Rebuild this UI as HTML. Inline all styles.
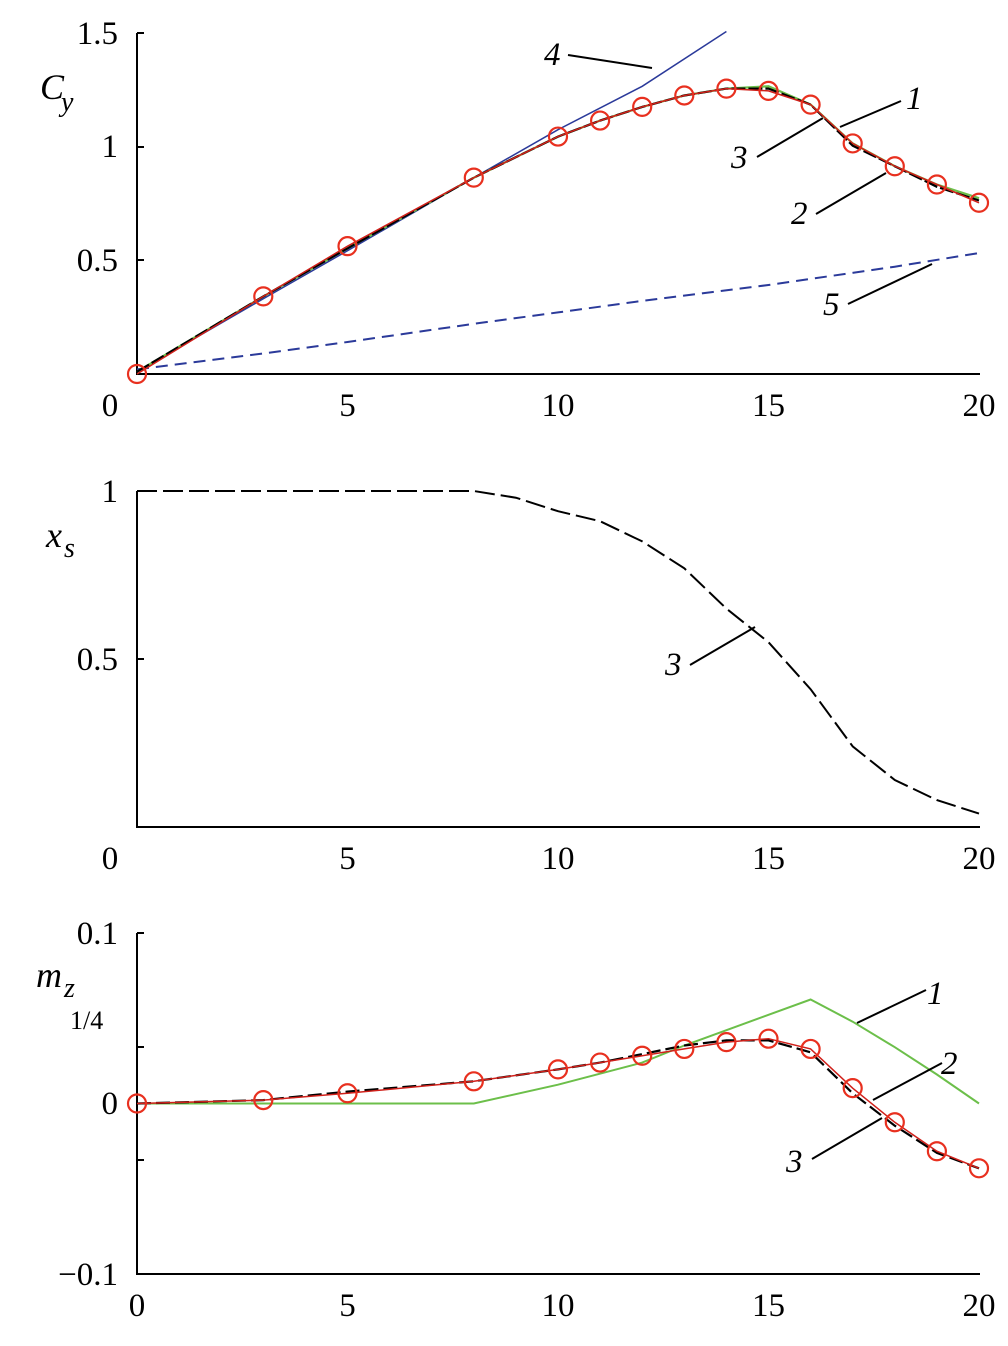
<!DOCTYPE html>
<html><head><meta charset="utf-8"><style>
body{margin:0;background:#fff}
svg{display:block}
svg text{font-family:"Liberation Serif","Times New Roman",Times,serif;fill:#000}
</style></head><body>
<svg id="c" width="1008" height="1346" xmlns="http://www.w3.org/2000/svg"></svg>
<script>
const alphaX=[0,3,5,8,10,11,12,13,14,15,16,17,18,19,20];
const cy2=[0,0.34,0.56,0.86,1.04,1.11,1.17,1.22,1.25,1.24,1.18,1.01,0.91,0.83,0.75];
const cy3=[0.01,0.34,0.55,0.86,1.04,1.11,1.17,1.22,1.25,1.25,1.18,1.0,0.91,0.82,0.76];
const cy1=[0.01,0.34,0.55,0.86,1.04,1.11,1.17,1.22,1.25,1.26,1.18,1.01,0.91,0.83,0.77];
const x4=[0,3,5,8,10,12,14];
const cy4=[0.01,0.33,0.54,0.86,1.07,1.26,1.50];
const x5=[0,3,5,8,10,12,15,18,20];
const cy5=[0.02,0.09,0.14,0.22,0.27,0.32,0.39,0.47,0.53];
const xsX=[0,8,9,10,11,12,13,14,15,16,17,18,19,20];
const xsY=[1,1,0.98,0.94,0.91,0.85,0.77,0.65,0.55,0.41,0.24,0.14,0.08,0.04];
const mz2=[0,0.002,0.006,0.013,0.020,0.024,0.028,0.032,0.036,0.038,0.032,0.009,-0.011,-0.028,-0.038];
const mz3=[0,0.002,0.007,0.013,0.020,0.024,0.029,0.034,0.037,0.037,0.030,0.006,-0.013,-0.029,-0.038];
const mzGx=[0,8,10,12,13,14,15,16,17,18,19,20];
const mzG=[0,0,0.011,0.024,0.034,0.043,0.052,0.061,0.048,0.033,0.017,0];
const xTicks=[0,5,10,15,20];

const svg=document.getElementById('c');
const NS='http://www.w3.org/2000/svg';
function mk(tag,attrs,name){const e=document.createElementNS(NS,tag);for(const k in attrs)e.setAttribute(k,attrs[k]);


svg.appendChild(e);return e;}
function txt(x,y,s,name,extra){const e=mk('text',Object.assign({x:x,y:y,'font-size':33,'font-family':'Liberation Serif, Times New Roman, serif'},extra||{}),name);e.textContent=s;return e;}
const X=v=>137+v*42.1;
const Y1=v=>374-v*228.3;
const Y2=v=>827-v*336;
const Y3=v=>1103.5-v*1705;
function line(xs,ys,fx,fy,stroke,w,dash,name){
 const d=xs.map((x,i)=>(i?'L':'M')+X(x).toFixed(1)+' '+fy(ys[i]).toFixed(1)).join(' ');
 const a={d:d,fill:'none',stroke:stroke,'stroke-width':w};if(dash)a['stroke-dasharray']=dash;
 return mk('path',a,name);}
function circles(xs,ys,fy,name){xs.forEach((x,i)=>{mk('circle',{cx:X(x),cy:fy(ys[i]),r:9,fill:'none',stroke:'#e8301f','stroke-width':2.2},name);});}
function seg(x1,y1,x2,y2,name){mk('line',{x1:x1,y1:y1,x2:x2,y2:y2,stroke:'#000','stroke-width':2},name);}

// Panel 1
seg(137,33,137,375,'y-axis-cy');seg(136,374,980,374,'x-axis-cy');
[[1.5,33],[1,147],[0.5,260]].forEach(t=>{seg(137,t[1],144,t[1],'y-tick');});
txt(118,44,'1.5','y-tick-label',{'text-anchor':'end'});
txt(118,157,'1','y-tick-label',{'text-anchor':'end'});
txt(118,271,'0.5','y-tick-label',{'text-anchor':'end'});
xTicks.forEach(v=>txt(v==0?110:X(v),416,String(v),'x-tick-label',{'text-anchor':'middle'}));
txt(40,99,'C','y-axis-title',{'font-style':'italic','font-size':36});
txt(61,111,'y','y-axis-title-sub',{'font-style':'italic','font-size':28});
line(x5,cy5,X,Y1,'#2b3a9a',2,'12 7','series-5');
line(x4,cy4,X,Y1,'#2b3a9a',1.5,null,'series-4');
line(alphaX,cy1,X,Y1,'#6cbf4a',2.2,null,'series-1');
line(alphaX,cy3,X,Y1,'#000',2.2,'14 3','series-3');
line(alphaX,cy2,X,Y1,'#d0201a',1.5,null,'series-2');
circles(alphaX,cy2,Y1,'marker-2');
seg(568,55,652,68,'leader-4');txt(544,65,'4','label-4',{'font-style':'italic'});
seg(901,101,840,127,'leader-1');txt(906,109,'1','label-1',{'font-style':'italic'});
seg(757,157,823,118,'leader-3');txt(731,168,'3','label-3',{'font-style':'italic'});
seg(816,214,886,173,'leader-2');txt(791,224,'2','label-2',{'font-style':'italic'});
seg(848,304,932,264,'leader-5');txt(823,315,'5','label-5',{'font-style':'italic'});

// Panel 2
seg(137,491,137,828,'y-axis-xs');seg(136,827,980,827,'x-axis-xs');
seg(137,491,144,491,'y-tick');seg(137,659,144,659,'y-tick');
txt(118,502,'1','y-tick-label',{'text-anchor':'end'});
txt(118,670,'0.5','y-tick-label',{'text-anchor':'end'});
xTicks.forEach(v=>txt(v==0?110:X(v),869,String(v),'x-tick-label',{'text-anchor':'middle'}));
txt(46,547,'x','y-axis-title',{'font-style':'italic','font-size':36});
txt(64,557,'s','y-axis-title-sub',{'font-style':'italic','font-size':28});
line(xsX,xsY,X,Y2,'#000',2,'20 6','series-xs-3');
seg(690,665,755,627,'leader-3');txt(665,675,'3','label-3',{'font-style':'italic'});

// Panel 3
seg(137,933,137,1275,'y-axis-mz');seg(136,1274,980,1274,'x-axis-mz');
[933,1047,1160].forEach(y=>seg(137,y,144,y,'y-tick'));
txt(118,944,'0.1','y-tick-label',{'text-anchor':'end'});
txt(118,1114,'0','y-tick-label',{'text-anchor':'end'});
txt(118,1285,'\u22120.1','y-tick-label',{'text-anchor':'end'});
xTicks.forEach(v=>txt(X(v),1316,String(v),'x-tick-label',{'text-anchor':'middle'}));
txt(36,987,'m','y-axis-title',{'font-style':'italic','font-size':36});
txt(64,997,'z','y-axis-title-sub',{'font-style':'italic','font-size':28});
txt(70,1029,'1/4','y-axis-title-sub2',{'font-size':26});
line(mzGx,mzG,X,Y3,'#6cbf4a',2,null,'series-1');
line(alphaX,mz3,X,Y3,'#000',2.2,'14 5','series-3');
line(alphaX,mz2,X,Y3,'#d0201a',1.5,null,'series-2');
circles(alphaX,mz2,Y3,'marker-2');
seg(926,990,857,1023,'leader-1');txt(927,1004,'1','label-1',{'font-style':'italic'});
seg(942,1063,873,1100,'leader-2');txt(941,1074,'2','label-2',{'font-style':'italic'});
seg(812,1159,882,1118,'leader-3');txt(786,1172,'3','label-3',{'font-style':'italic'});
</script>
</body></html>
